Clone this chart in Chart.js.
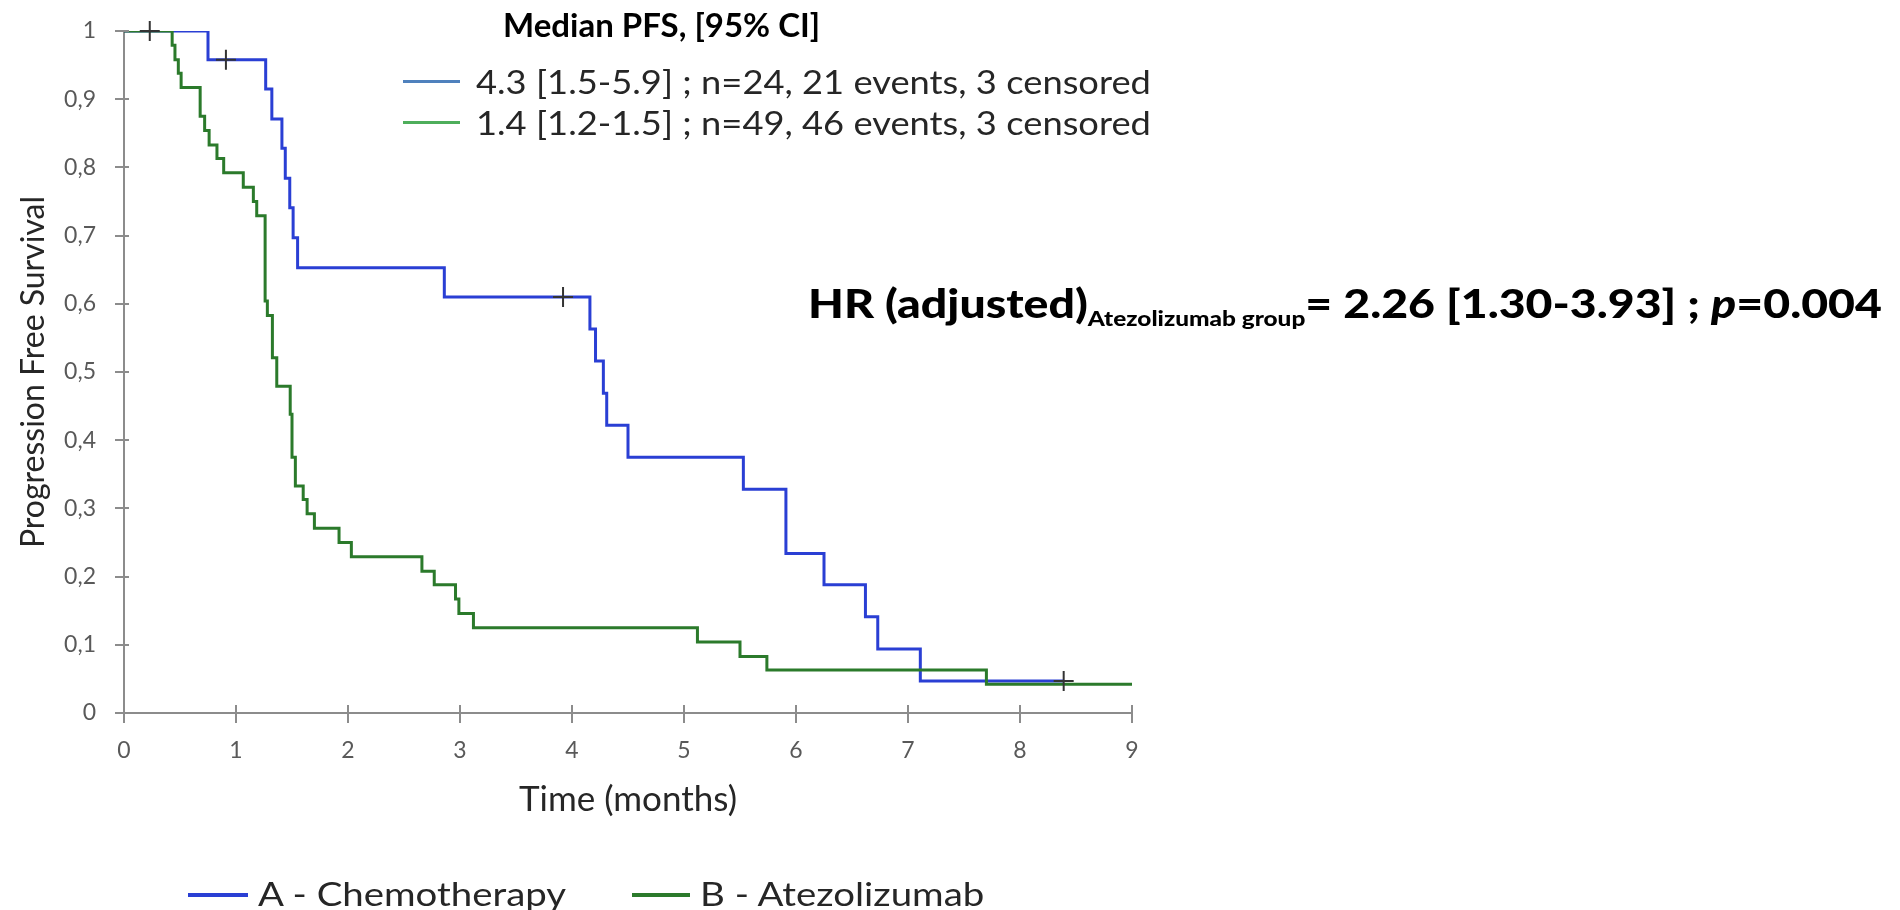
<!DOCTYPE html>
<html lang="en">
<head>
  <meta charset="UTF-8" />
  <title>Progression Free Survival</title>
  <script src="https://cdn.jsdelivr.net/npm/chart.js"></script>
  <style>
    body { margin: 0; background: #fff; }
    .wrap { position: relative; width: 1900px; height: 910px; font-family: Lato, "Open Sans", sans-serif; }
    canvas { position: absolute; left: 0; top: 0; }
    .txt { position: absolute; white-space: nowrap; line-height: 1; transform-origin: left center; }
    .swatch { position: absolute; height: 0; }
    #pfsTitle { left: 503px; top: 8px; font-size: 33px; font-weight: 700; color: #000; }
    .row { font-size: 33px; color: #262626; transform: scaleX(1.1); }
    #hr { left: 808px; top: 283px; font-size: 40px; font-weight: 900; color: #000; transform: scaleX(1.16); }
    #hr sub { font-size: 21px; vertical-align: -8px; }
    .leg { font-size: 32px; color: #262626; transform: scaleX(1.2); }
  </style>
</head>
<body>
  <div class="wrap">
    <canvas id="kmChart" width="1900" height="910"></canvas>

    <div id="pfsTitle" class="txt">Median PFS, [95% CI]</div>
    <div class="swatch" style="left:403px; top:80px; width:57px; border-top:3px solid #4f81bd;"></div>
    <div class="txt row" style="left:476px; top:65px;">4.3 [1.5-5.9] ; n=24, 21 events, 3 censored</div>
    <div class="swatch" style="left:403px; top:121px; width:57px; border-top:3px solid #4eae5b;"></div>
    <div class="txt row" style="left:476px; top:106px;">1.4 [1.2-1.5] ; n=49, 46 events, 3 censored</div>

    <div id="hr" class="txt">HR (adjusted)<sub>Atezolizumab group</sub>= 2.26 [1.30-3.93] ; <i>p</i>=0.004</div>

    <div class="swatch" style="left:188px; top:893px; width:60px; border-top:4px solid #2a3fd4;"></div>
    <div class="txt leg" style="left:258px; top:878px;">A - Chemotherapy</div>
    <div class="swatch" style="left:632px; top:893px; width:58px; border-top:4px solid #2b7a2b;"></div>
    <div class="txt leg" style="left:700px; top:878px;">B - Atezolizumab</div>
  </div>

  <script>
    // Kaplan-Meier estimates: time of each step (months) and survival after it
    const chemoTimes = [0, 0.75, 1.265, 1.32, 1.41, 1.44, 1.48, 1.51, 1.55, 2.86, 4.16, 4.21, 4.28, 4.31, 4.50, 5.53, 5.91, 6.25, 6.62, 6.73, 7.11, 8.39];
    const chemoSurv  = [1, 0.958, 0.915, 0.871, 0.828, 0.784, 0.741, 0.697, 0.653, 0.610, 0.563, 0.516, 0.469, 0.422, 0.375, 0.328, 0.234, 0.188, 0.141, 0.094, 0.047, 0.047];

    const atezoTimes = [0, 0.43, 0.455, 0.485, 0.51, 0.68, 0.72, 0.76, 0.83, 0.89, 1.065, 1.155, 1.185, 1.26, 1.28, 1.325, 1.364, 1.484, 1.50, 1.53, 1.60, 1.635, 1.70, 1.92, 2.03, 2.66, 2.77, 2.96, 2.99, 3.12, 5.12, 5.50, 5.74, 7.70, 9.0];
    const atezoSurv  = [1, 0.979, 0.958, 0.938, 0.917, 0.875, 0.854, 0.833, 0.813, 0.792, 0.771, 0.750, 0.729, 0.604, 0.583, 0.521, 0.479, 0.438, 0.375, 0.333, 0.313, 0.292, 0.271, 0.250, 0.229, 0.208, 0.188, 0.167, 0.146, 0.125, 0.104, 0.083, 0.063, 0.042, 0.042];

    // censored patients
    const chemoCensTimes = [0.91, 3.92, 8.39];
    const chemoCensSurv  = [0.958, 0.610, 0.047];
    const atezoCensTimes = [0.23];
    const atezoCensSurv  = [1];

    const xTicks = [0, 1, 2, 3, 4, 5, 6, 7, 8, 9];
    const yTickLabels = ['0', '0,1', '0,2', '0,3', '0,4', '0,5', '0,6', '0,7', '0,8', '0,9', '1'];

    const BLUE = '#2a3fd4';
    const GREEN = '#2b7a2b';
    const AXIS = '#8c8c8c';

    const toPoints = (xs, ys) => xs.map((x, i) => ({ x: x, y: ys[i] }));

    // axis ticks that cross the axis line (Chart.js only draws them outside)
    const crossTicks = {
      id: 'crossTicks',
      afterDraw(chart) {
        const { ctx, scales: { x, y } } = chart;
        ctx.save();
        ctx.strokeStyle = AXIS;
        ctx.lineWidth = 2;
        ctx.beginPath();
        x.ticks.forEach(t => {
          const px = Math.round(x.getPixelForValue(t.value));
          ctx.moveTo(px, y.bottom - 8);
          ctx.lineTo(px, y.bottom + 10);
        });
        y.ticks.forEach(t => {
          const py = Math.round(y.getPixelForValue(t.value));
          ctx.moveTo(x.left - 9, py);
          ctx.lineTo(x.left + 5, py);
        });
        ctx.stroke();
        ctx.restore();
      }
    };

    new Chart(document.getElementById('kmChart'), {
      type: 'line',
      data: {
        datasets: [
          {
            label: 'A - Chemotherapy',
            data: toPoints(chemoTimes, chemoSurv),
            borderColor: BLUE,
            borderWidth: 3,
            stepped: 'before',
            pointRadius: 0,
            order: 2
          },
          {
            label: 'B - Atezolizumab',
            data: toPoints(atezoTimes, atezoSurv),
            borderColor: GREEN,
            borderWidth: 3,
            stepped: 'before',
            pointRadius: 0,
            order: 1
          },
          {
            label: 'censored A',
            data: toPoints(chemoCensTimes, chemoCensSurv),
            showLine: false,
            pointStyle: 'cross',
            pointRadius: 10,
            pointBorderWidth: 2,
            pointBorderColor: '#333',
            clip: false,
            order: 0
          },
          {
            label: 'censored B',
            data: toPoints(atezoCensTimes, atezoCensSurv),
            showLine: false,
            pointStyle: 'cross',
            pointRadius: 10,
            pointBorderWidth: 2,
            pointBorderColor: '#333',
            clip: false,
            order: 0
          }
        ]
      },
      options: {
        responsive: false,
        animation: false,
        devicePixelRatio: 1,
        layout: { padding: { top: 31, right: 768, bottom: 0, left: 0 } },
        plugins: {
          legend: { display: false },
          tooltip: { enabled: false }
        },
        scales: {
          x: {
            type: 'linear',
            min: 0,
            max: 9,
            afterBuildTicks: s => { s.ticks = xTicks.map(v => ({ value: v })); },
            ticks: { font: { family: 'Lato', size: 23 }, color: '#595959', padding: 24 },
            grid: { display: false, drawTicks: false },
            border: { color: AXIS, width: 2 },
            title: {
              display: true,
              text: 'Time (months)',
              font: { family: 'Lato', size: 35 },
              color: '#262626',
              padding: { top: 0, bottom: 89 }
            },
            afterFit: s => { s.height = 197; }
          },
          y: {
            min: 0,
            max: 1,
            ticks: {
              stepSize: 0.1,
              font: { family: 'Lato', size: 23 },
              color: '#595959',
              padding: 0,
              callback: (v, i) => yTickLabels[i]
            },
            // hidden tick marks keep the labels clear of the axis without padding the top
            grid: { display: false, drawTicks: true, tickLength: 28 },
            border: { color: AXIS, width: 2 },
            title: {
              display: true,
              text: 'Progression Free Survival',
              font: { family: 'Lato', size: 32 },
              color: '#262626',
              padding: { top: 14, bottom: 0 }
            },
            afterFit: s => { s.width = 124; }
          }
        }
      },
      plugins: [crossTicks]
    });
  </script>
</body>
</html>
